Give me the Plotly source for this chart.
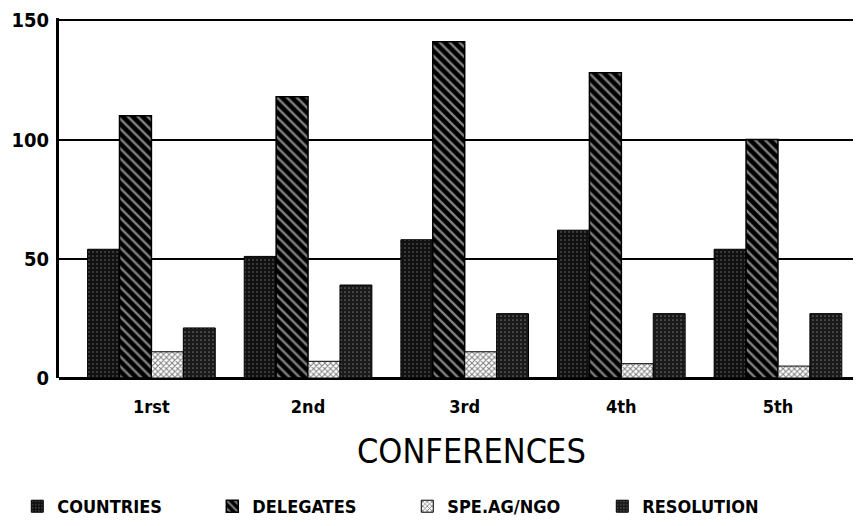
import plotly.graph_objects as go

conferences = ["1rst", "2nd", "3rd", "4th", "5th"]
countries = [54, 51, 58, 62, 54]
delegates = [110, 118, 141, 128, 100]
spe_ag_ngo = [11, 7, 11, 6, 5]
resolution = [21, 39, 27, 27, 27]
y_ticks = [0, 50, 100, 150]

FONT = "DejaVu Sans Condensed, Liberation Sans Narrow, Liberation Sans, Arial, sans-serif"

fig = go.Figure()
fig.add_bar(x=conferences, y=countries, name="COUNTRIES",
            marker=dict(color="#111111", line=dict(color="black", width=1),
                        pattern=dict(shape=".", bgcolor="#111111", fgcolor="#cccccc",
                                     size=4, solidity=0.12)))
fig.add_bar(x=conferences, y=delegates, name="DELEGATES",
            marker=dict(color="black", line=dict(color="black", width=1.5),
                        pattern=dict(shape="\\", bgcolor="black", fgcolor="white",
                                     size=7, solidity=0.35)))
fig.add_bar(x=conferences, y=spe_ag_ngo, name="SPE.AG/NGO",
            marker=dict(color="white", line=dict(color="black", width=1),
                        pattern=dict(shape="x", bgcolor="white", fgcolor="black",
                                     size=4, solidity=0.45)))
fig.add_bar(x=conferences, y=resolution, name="RESOLUTION",
            marker=dict(color="#1a1a1a", line=dict(color="black", width=1),
                        pattern=dict(shape=".", bgcolor="#1a1a1a", fgcolor="#bbbbbb",
                                     size=4, solidity=0.15)))

fig.update_layout(
    width=853, height=518,
    margin=dict(l=51, r=0, t=10, b=148, autoexpand=False),
    paper_bgcolor="white", plot_bgcolor="white",
    barmode="group", bargap=0.185, bargroupgap=0,
    font=dict(family=FONT, color="black"),
    showlegend=True,
    legend=dict(orientation="h", x=-0.052, xanchor="left", y=-0.357, yanchor="middle",
                font=dict(size=18, family=FONT, color="black", weight="bold"),
                entrywidth=150, itemwidth=30, traceorder="normal"),
    annotations=[dict(text="CONFERENCES", xref="paper", yref="paper", x=0.5, y=-0.203,
                      xanchor="center", yanchor="middle", xshift=11, showarrow=False,
                      font=dict(size=34, family=FONT, color="black"))],
)
fig.update_xaxes(range=[-0.59, 4.53], showgrid=False, zeroline=False,
                 showline=False, ticks="", automargin=False, ticklabelstandoff=16,
                 tickfont=dict(size=18, family=FONT, weight="bold"))
fig.update_yaxes(range=[0, 151], tickvals=y_ticks, ticktext=[str(v) for v in y_ticks],
                 showgrid=True, gridcolor="black", gridwidth=2, automargin=False,
                 zeroline=True, zerolinecolor="black", zerolinewidth=3,
                 showline=True, linecolor="black", linewidth=3, ticks="",
                 ticklabelstandoff=3, ticklabeloverflow="allow",
                 tickfont=dict(size=20, family=FONT, weight="bold"))

fig.write_html("out.html")
